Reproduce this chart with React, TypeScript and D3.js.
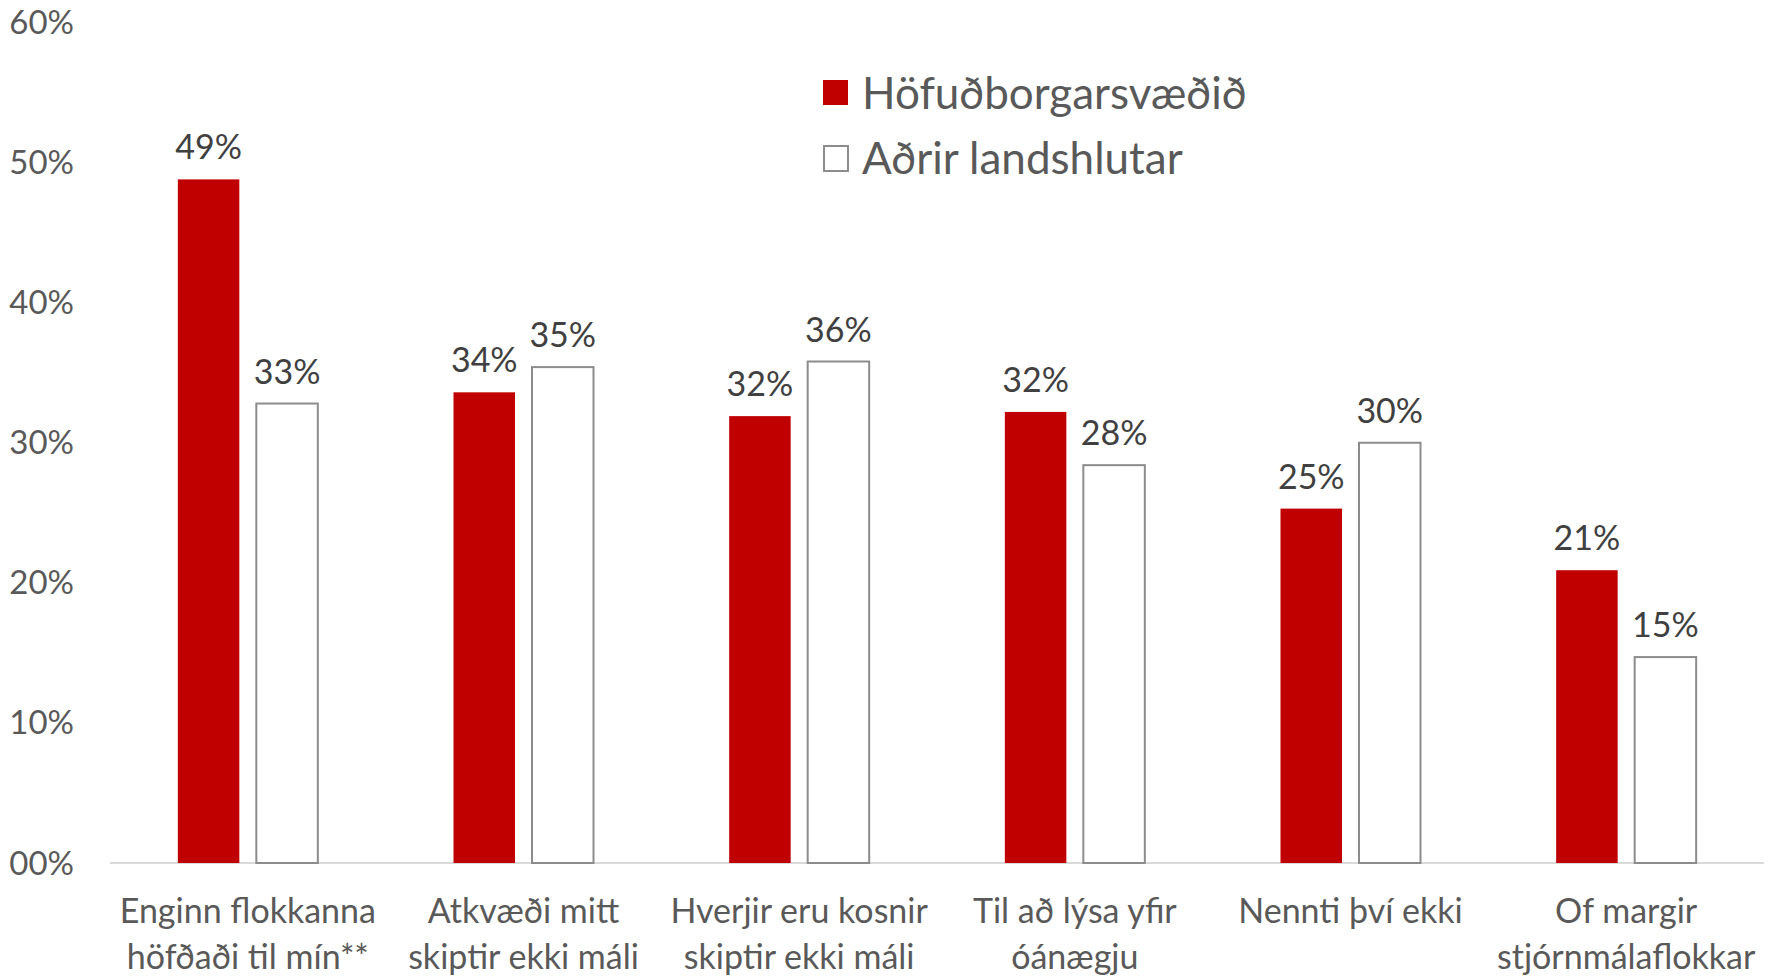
import React, { useEffect, useRef } from 'react';
import * as d3 from 'd3';

const categories = [
  ['Enginn flokkanna', 'höfðaði til mín**'],
  ['Atkvæði mitt', 'skiptir ekki máli'],
  ['Hverjir eru kosnir', 'skiptir ekki máli'],
  ['Til að lýsa yfir', 'óánægju'],
  ['Nennti því ekki'],
  ['Of margir', 'stjórnmálaflokkar'],
];
const capitalValues = [48.8, 33.6, 31.9, 32.2, 25.3, 20.9];
const otherValues = [32.8, 35.4, 35.8, 28.4, 30.0, 14.7];
const capitalLabels = ['49%', '34%', '32%', '32%', '25%', '21%'];
const otherLabels = ['33%', '35%', '36%', '28%', '30%', '15%'];
const seriesNames = ['Höfuðborgarsvæðið', 'Aðrir landshlutar'];
const yTicks = [0, 10, 20, 30, 40, 50, 60];
const yTickLabels = ['00%', '10%', '20%', '30%', '40%', '50%', '60%'];

const W = 1773;
const H = 976;
const FONT = 'Lato, "Open Sans", sans-serif';

const App = () => {
  const ref = useRef<HTMLDivElement>(null);

  useEffect(() => {
    if (!ref.current) return;
    d3.select(ref.current).selectAll('*').remove();
    const svg = d3
      .select(ref.current)
      .append('svg')
      .attr('width', W)
      .attr('height', H)
      .style('display', 'block')
      .style('font-family', FONT);

    const keys = categories.map((_, i) => String(i));
    const x = d3.scaleBand().domain(keys).range([110, 1764]).paddingInner(0).paddingOuter(0);
    const y = d3.scaleLinear().domain([0, 60]).range([863, 22.5]);

    const barW = 61.5;
    const gap = 17;

    // y tick labels
    svg
      .append('g')
      .selectAll('text')
      .data(yTicks)
      .join('text')
      .attr('x', 74)
      .attr('y', d => y(d))
      .attr('dy', '0.35em')
      .attr('text-anchor', 'end')
      .attr('fill', '#595959')
      .style('font-size', '33px')
      .text((d, i) => yTickLabels[i]);

    // baseline
    svg
      .append('line')
      .attr('x1', 110)
      .attr('x2', 1764)
      .attr('y1', y(0))
      .attr('y2', y(0))
      .attr('stroke', '#d9d9d9')
      .attr('stroke-width', 2);

    const groups = svg
      .append('g')
      .selectAll('g')
      .data(keys)
      .join('g')
      .attr('transform', d => `translate(${(x(d) as number) + x.bandwidth() / 2},0)`);

    // red bars
    groups
      .append('rect')
      .attr('x', -gap / 2 - barW)
      .attr('y', (d, i) => y(capitalValues[i]))
      .attr('width', barW)
      .attr('height', (d, i) => y(0) - y(capitalValues[i]))
      .attr('fill', '#c00000');

    // white bars
    groups
      .append('rect')
      .attr('x', gap / 2)
      .attr('y', (d, i) => y(otherValues[i]))
      .attr('width', barW)
      .attr('height', (d, i) => y(0) - y(otherValues[i]))
      .attr('fill', '#ffffff')
      .attr('stroke', '#8c8c8c')
      .attr('stroke-width', 2);

    // data labels
    groups
      .append('text')
      .attr('x', -gap / 2 - barW / 2)
      .attr('y', (d, i) => y(capitalValues[i]) - 20)
      .attr('text-anchor', 'middle')
      .attr('fill', '#404040')
      .style('font-size', '34px')
      .text((d, i) => capitalLabels[i]);

    groups
      .append('text')
      .attr('x', gap / 2 + barW / 2)
      .attr('y', (d, i) => y(otherValues[i]) - 20)
      .attr('text-anchor', 'middle')
      .attr('fill', '#404040')
      .style('font-size', '34px')
      .text((d, i) => otherLabels[i]);

    // category labels
    groups
      .append('text')
      .attr('text-anchor', 'middle')
      .attr('fill', '#595959')
      .style('font-size', '34px')
      .selectAll('tspan')
      .data((d, i) => categories[i])
      .join('tspan')
      .attr('x', 0)
      .attr('y', (d, j) => 923 + j * 46)
      .text(d => d);

    // legend
    const legend = svg.append('g');
    legend
      .append('rect')
      .attr('x', 823)
      .attr('y', 80)
      .attr('width', 25)
      .attr('height', 25)
      .attr('fill', '#c00000');
    legend
      .append('rect')
      .attr('x', 824)
      .attr('y', 146)
      .attr('width', 24)
      .attr('height', 25)
      .attr('fill', '#ffffff')
      .attr('stroke', '#8c8c8c')
      .attr('stroke-width', 2);
    legend
      .selectAll('text')
      .data(seriesNames)
      .join('text')
      .attr('x', 862)
      .attr('y', (d, i) => 109 + i * 65)
      .attr('fill', '#595959')
      .style('font-size', '44px')
      .text(d => d);
  }, []);

  return <div ref={ref} style={{ position: 'absolute', left: 0, top: 0 }}></div>;
};

export default App;
